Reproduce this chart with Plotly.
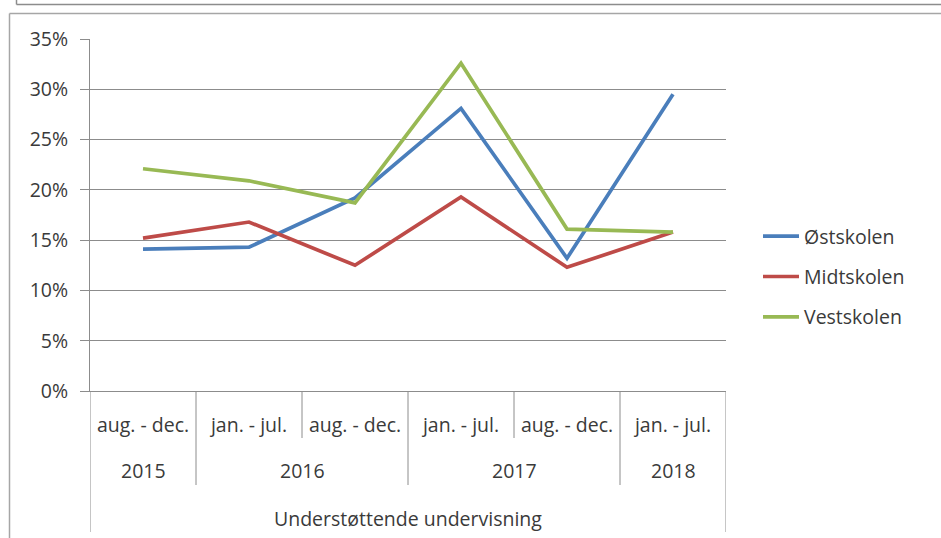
import plotly.graph_objects as go

periods = ["aug. - dec.", "jan. - jul.", "aug. - dec.", "jan. - jul.", "aug. - dec.", "jan. - jul."]
years = ["2015", "2016", "2017", "2018"]
year_spans = [(0, 0), (1, 2), (3, 4), (5, 5)]
axis_title = "Understøttende undervisning"

ost = [0.141, 0.143, 0.192, 0.281, 0.132, 0.295]
midt = [0.152, 0.168, 0.125, 0.193, 0.123, 0.158]
vest = [0.221, 0.209, 0.187, 0.326, 0.161, 0.158]

series = [("Østskolen", ost, "#4A7EBB"), ("Midtskolen", midt, "#BE4B48"), ("Vestskolen", vest, "#98B954")]

FONT = "Open Sans"
FS = 19.5
TXT = "#3A3A3A"
GRID = "#8C8C8C"

x_idx = list(range(len(periods)))

fig = go.Figure()
for i, (name, vals, col) in enumerate(series):
    fig.add_trace(go.Scatter(x=x_idx, y=vals, mode="lines", name=name,
                             line=dict(color=col, width=3.7), legendgroup=name))

W, H = 941, 538
L, R, T, B = 90, 726, 39, 391
pw, ph = R - L, B - T

def px2paper_x(px):
    return (px - L) / pw

def px2paper_y(py):
    return (B - py) / ph

shapes = []
year_bounds = set()
for s, e in year_spans:
    year_bounds.add(s - 0.5)
    year_bounds.add(e + 0.5)
for k in range(len(periods) + 1):
    xv = k - 0.5
    if k == 0 or k == len(periods):
        yend = px2paper_y(532)
    elif xv in year_bounds:
        yend = px2paper_y(485)
    else:
        yend = px2paper_y(438)
    shapes.append(dict(type="line", xref="x", yref="paper", x0=xv, x1=xv, y0=0, y1=yend,
                       line=dict(color=GRID, width=1)))
# outer frame of chart box
shapes.append(dict(type="line", xref="paper", yref="paper",
                   x0=px2paper_x(9.5), x1=px2paper_x(945), y0=px2paper_y(13.5), y1=px2paper_y(13.5),
                   line=dict(color="#A6A6A6", width=1.5)))
shapes.append(dict(type="line", xref="paper", yref="paper",
                   x0=px2paper_x(9.5), x1=px2paper_x(9.5), y0=px2paper_y(13.5), y1=px2paper_y(545),
                   line=dict(color="#A6A6A6", width=1.5)))
# previous box bottom edge
shapes.append(dict(type="line", xref="paper", yref="paper",
                   x0=px2paper_x(16.5), x1=px2paper_x(945), y0=px2paper_y(4.5), y1=px2paper_y(4.5),
                   line=dict(color="#8C8C8C", width=1.5)))
shapes.append(dict(type="line", xref="paper", yref="paper",
                   x0=px2paper_x(16.5), x1=px2paper_x(16.5), y0=px2paper_y(-5), y1=px2paper_y(4.5),
                   line=dict(color="#8C8C8C", width=1.5)))

annotations = []
for yr, (s, e) in zip(years, year_spans):
    annotations.append(dict(x=(s + e) / 2, y=px2paper_y(470), xref="x", yref="paper",
                            text=yr, showarrow=False, xanchor="center", yanchor="middle",
                            font=dict(family=FONT, size=FS, color=TXT)))
annotations.append(dict(x=(len(periods) - 1) / 2, y=px2paper_y(518), xref="x", yref="paper",
                        text=axis_title, showarrow=False, xanchor="center", yanchor="middle",
                        font=dict(family=FONT, size=FS, color=TXT)))

fig.update_layout(
    width=W, height=H,
    margin=dict(l=L, r=W - R, t=T, b=H - B, pad=0),
    paper_bgcolor="white", plot_bgcolor="white",
    font=dict(family=FONT, size=FS, color=TXT),
    showlegend=True,
    legend=dict(x=px2paper_x(758), y=px2paper_y(277), xanchor="left", yanchor="middle",
                font=dict(family=FONT, size=FS, color=TXT), traceorder="grouped",
                tracegroupgap=12, itemwidth=36, bgcolor="rgba(0,0,0,0)"),
    shapes=shapes,
    annotations=annotations,
    xaxis=dict(range=[-0.5, len(periods) - 0.5], tickmode="array", tickvals=x_idx, ticktext=periods,
               showgrid=False, zeroline=False, showline=True, linecolor=GRID, linewidth=1,
               ticks="", ticklabelstandoff=17, tickfont=dict(family=FONT, size=FS, color=TXT),
               fixedrange=True),
    yaxis=dict(range=[0, 0.35], dtick=0.05, tick0=0, tickformat=".0%",
               showgrid=True, gridcolor=GRID, gridwidth=1, zeroline=False,
               showline=True, linecolor=GRID, linewidth=1,
               ticks="outside", ticklen=9, tickcolor=GRID, ticklabelstandoff=8,
               tickfont=dict(family=FONT, size=FS, color=TXT), fixedrange=True),
)

fig.write_html("out.html", config={"displayModeBar": False},
               post_script="document.body.style.margin='0';document.body.style.overflow='hidden';")
